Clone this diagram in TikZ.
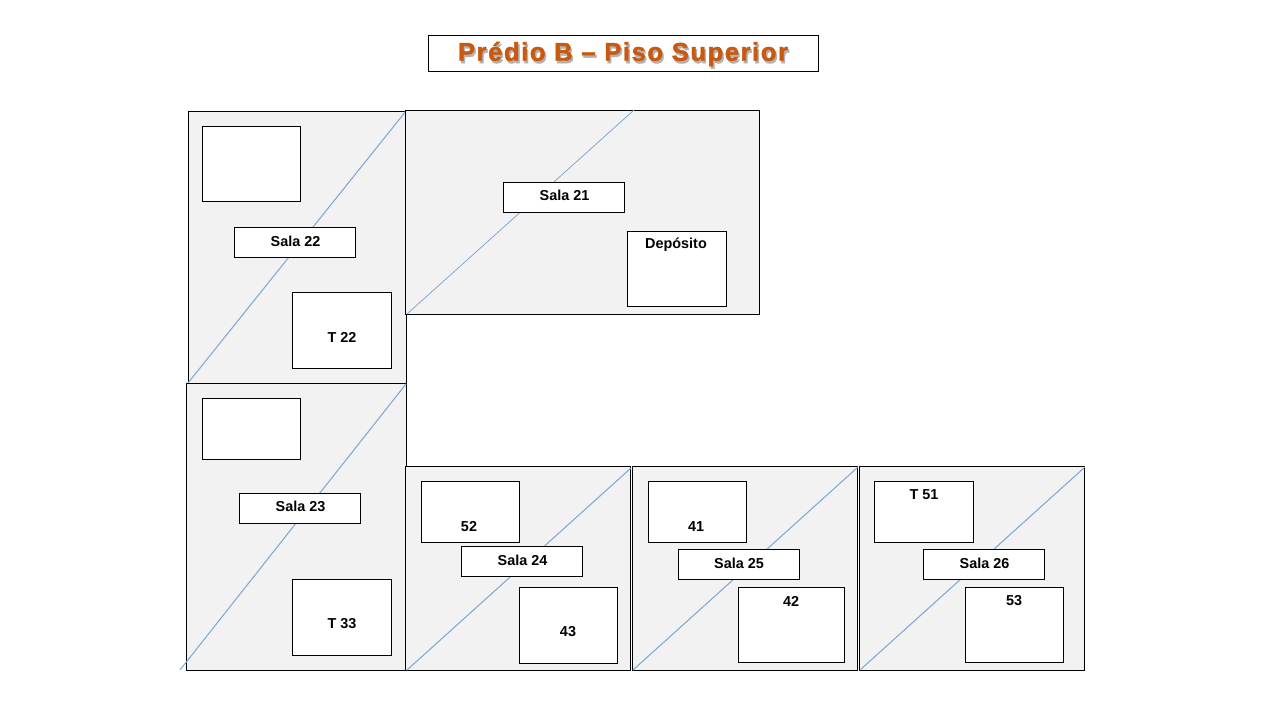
\documentclass[tikz,border=0pt]{standalone}
\usepackage{fontspec}
\setmainfont{Liberation Sans}
\newfontfamily\titlefont[LetterSpace=6,BoldFeatures={FakeBold=1.6}]{Liberation Sans}
\definecolor{roomgray}{HTML}{F2F2F2}
\definecolor{diagblue}{HTML}{7FA9D6}
\definecolor{titleorange}{HTML}{C9590F}
\begin{document}
\begin{tikzpicture}[x=0.02cm, y=-0.02cm]
    \tikzstyle{room} = [draw=black, line width=0.55pt, fill=roomgray]
    \tikzstyle{diag} = [color=diagblue, line width=0.6pt]
    \tikzstyle{box} = [draw=black, line width=0.55pt, fill=white]
    \tikzstyle{tag} = [font=\fontsize{8.2pt}{10pt}\selectfont\bfseries, inner sep=0pt]
    \tikzstyle{heading} = [font=\titlefont\fontsize{14.6pt}{16pt}\selectfont\bfseries, inner sep=0pt]
    \useasboundingbox (0, 0) rectangle (1280, 720);
    % title
    \draw[box] (428, 35.5) rectangle (818, 71);
    \node[heading, color=black!30] (titleshadow) at (624.5, 56.5) {Prédio B – Piso Superior};
    \node[heading, color=titleorange] (title) at (623, 54) {Prédio B – Piso Superior};
    % rooms
    \draw[room] (188, 111) rectangle (406.5, 383);
    \draw[diag] (188, 383) -- (406, 111);
    \draw[room] (405, 110) rectangle (759, 314);
    \draw[diag, line width=0.45pt] (407, 314) -- (634, 110);
    \draw[room] (186, 383) rectangle (406, 670);
    \draw[diag] (180, 670) -- (406, 384);
    \draw[room] (405, 466) rectangle (630.5, 670);
    \draw[diag] (407, 670) -- (631, 468);
    \draw[room] (632, 466) rectangle (857.5, 670);
    \draw[diag] (633, 670) -- (858, 467);
    \draw[room] (859, 466) rectangle (1084.5, 670);
    \draw[diag] (860, 670) -- (1085, 467);
    % sala 22
    \draw[box] (202, 126) rectangle (300, 201);
    \draw[box] (234, 227) rectangle (355, 257);
    \draw[box] (292, 292) rectangle (391, 368);
    \node[tag] (sala22) at (295.5, 241) {Sala 22};
    \node[tag] (t22) at (342, 337) {T 22};
    % sala 21
    \draw[box] (503, 182) rectangle (624, 212);
    \draw[box] (627, 231) rectangle (726, 306);
    \node[tag] (sala21) at (564.5, 195) {Sala 21};
    \node[tag] (deposito) at (676, 245) {Depósito};
    % sala 23
    \draw[box] (202, 398) rectangle (300, 459);
    \draw[box] (239, 493) rectangle (360, 523);
    \draw[box] (292, 579) rectangle (391, 655);
    \node[tag] (sala23) at (300.5, 506) {Sala 23};
    \node[tag] (t33) at (342, 624) {T 33};
    % sala 24
    \draw[box] (421, 481) rectangle (519, 542);
    \draw[box] (461, 546) rectangle (582, 576);
    \draw[box] (519, 587) rectangle (617, 663);
    \node[tag] (n52) at (469, 526.5) {52};
    \node[tag] (sala24) at (522.5, 560) {Sala 24};
    \node[tag] (n43) at (568, 632) {43};
    % sala 25
    \draw[box] (648, 481) rectangle (746, 542);
    \draw[box] (678, 549) rectangle (799, 579);
    \draw[box] (738, 587) rectangle (844, 662);
    \node[tag] (n41) at (696, 526.5) {41};
    \node[tag] (sala25) at (739, 563) {Sala 25};
    \node[tag] (n42) at (791, 601) {42};
    % sala 26
    \draw[box] (874, 481) rectangle (973, 542);
    \draw[box] (923, 549) rectangle (1044, 579);
    \draw[box] (965, 587) rectangle (1063, 662);
    \node[tag] (t51) at (924, 495) {T 51};
    \node[tag] (sala26) at (984.5, 563) {Sala 26};
    \node[tag] (n53) at (1014, 601) {53};
\end{tikzpicture}
\end{document}
